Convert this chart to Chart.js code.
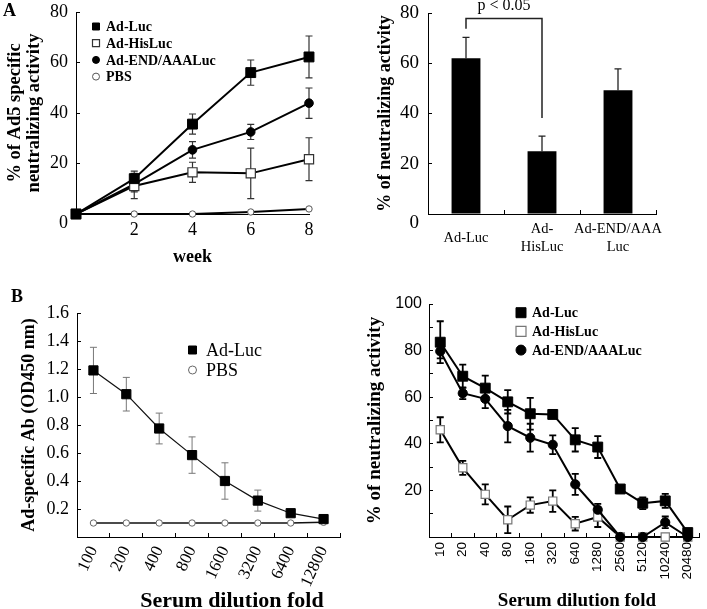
<!DOCTYPE html>
<html><head><meta charset="utf-8">
<script src="https://cdn.jsdelivr.net/npm/chart.js@4.4.1/dist/chart.umd.min.js"></script>
<style>
html,body{margin:0;padding:0;background:#fff}
body{width:707px;height:609px;position:relative;overflow:hidden}
canvas{position:absolute}
.lbl{position:absolute;font-family:'Liberation Serif',serif;font-weight:bold;color:#000;line-height:1;white-space:nowrap}
</style></head>
<body>
<canvas id="cA1" width="345" height="280" style="left:0;top:0"></canvas>
<canvas id="cA2" width="352" height="280" style="left:355px;top:0"></canvas>
<canvas id="cB1" width="355" height="324" style="left:0;top:285px"></canvas>
<canvas id="cB2" width="352" height="324" style="left:355px;top:285px"></canvas>
<div class="lbl" style="left:3px;top:1px;font-size:18px">A</div>
<div class="lbl" style="left:11px;top:287px;font-size:18px">B</div>
<div class="lbl" style="left:82px;top:589px;width:300px;text-align:center;font-size:22px">Serum dilution fold</div>
<div class="lbl" style="left:427px;top:590px;width:300px;text-align:center;font-size:19px">Serum dilution fold</div>
<script>
// ---------- Panel A (left): time course ----------
const weeks = [0, 2, 4, 6, 8];
const weekAdLuc = [0, 14, 35.6, 56, 62.2];
const weekAdLucErr = [0, 3, 4, 5, 8.3];
const weekAdHisLuc = [0, 11.1, 16.5, 16.1, 21.7];
const weekAdHisLucErr = [0, 5, 4, 10, 8.5];
const weekAdEnd = [0, 11.8, 25.4, 32.5, 43.9];
const weekAdEndErr = [0, 3, 3.3, 3, 6];
const weekPbs = [0, 0, 0, 0.8, 2];

// ---------- Panel A (right): week 8 bars ----------
const barGroups = ['Ad-Luc', ['Ad-', 'HisLuc'], ['Ad-END/AAA', 'Luc']];
const barValues = [62, 25, 49.3];
const barErrors = [8.3, 6, 8.5];
const sigText = 'p < 0.05';
const sigLevels = [73.7, 77.8, 38.2, 83]; // left leg end, bracket top, right leg end, text level

// ---------- Panel B (left): ELISA ----------
const elisaDilutions = ['100', '200', '400', '800', '1600', '3200', '6400', '12800'];
const elisaAdLuc = [1.19, 1.02, 0.775, 0.585, 0.40, 0.26, 0.17, 0.128];
const elisaAdLucErr = [0.165, 0.12, 0.11, 0.13, 0.13, 0.075, 0.02, 0.01];
const elisaPbs = [0.1, 0.1, 0.1, 0.1, 0.1, 0.1, 0.1, 0.105];

// ---------- Panel B (right): neutralization ----------
const ntDilutions = ['10', '20', '40', '80', '160', '320', '640', '1280', '2560', '5120', '10240', '20480'];
const ntAdLuc = [83.6, 69, 63.9, 58, 52.9, 52.6, 41.7, 38.6, 20.6, 14.5, 15.5, 1.9];
const ntAdLucErr = [9, 5, 5.4, 5, 6.8, 1, 5, 4.7, 0.5, 2.5, 3, 0];
const ntAdHisLuc = [46, 29.7, 18.3, 7.4, 13.7, 15.4, 5.7, 8.6, 0, 0, 0, 0];
const ntAdHisLucErr = [5.4, 3, 4.3, 5.7, 3.3, 4.6, 2.9, 4.3, 0, 0, 0, 0];
const ntAdEnd = [79.7, 61.7, 59.3, 47.6, 42.6, 39.6, 22.6, 11.7, 0, 0, 6.3, 0];
const ntAdEndErr = [3, 2.5, 4, 7, 6, 4, 4.5, 2.5, 0, 0, 2.5, 0];

// ---------- helpers / plugins ----------
const SERIF = "'Liberation Serif', 'Times New Roman', serif";
const SANS = "'Liberation Sans', Arial, sans-serif";
Chart.defaults.font.family = SERIF;
Chart.defaults.color = '#000';

const toPoints = (xs, ys) => xs.map((x, i) => ({ x: x, y: ys[i] }));

const errorBars = {
  id: 'errorBars',
  beforeDatasetsDraw(chart, args, o) {
    const ctx = chart.ctx, ys = chart.scales.y;
    chart.data.datasets.forEach((ds, i) => {
      if (!ds.errors) return;
      const meta = chart.getDatasetMeta(i);
      meta.data.forEach((el, j) => {
        const e = ds.errors[j];
        if (!e) return;
        const v = meta.controller.getParsed(j).y;
        const x = el.x;
        const yt = ys.getPixelForValue(v + e);
        const yb = ys.getPixelForValue(o.upOnly ? v : v - e);
        ctx.save();
        ctx.strokeStyle = o.color || '#000';
        ctx.lineWidth = o.width || 1;
        ctx.beginPath();
        ctx.moveTo(x, yt); ctx.lineTo(x, yb);
        ctx.moveTo(x - o.cap, yt); ctx.lineTo(x + o.cap, yt);
        if (!o.upOnly) { ctx.moveTo(x - o.cap, yb); ctx.lineTo(x + o.cap, yb); }
        ctx.stroke();
        ctx.restore();
      });
    });
  }
};

function drawMarker(ctx, style, x, y, size, fill, stroke, lw) {
  ctx.save();
  ctx.fillStyle = fill; ctx.strokeStyle = stroke; ctx.lineWidth = lw;
  ctx.beginPath();
  if (style === 'rect') ctx.rect(x - size / 2, y - size / 2, size, size);
  else ctx.arc(x, y, size / 2, 0, Math.PI * 2);
  ctx.fill();
  if (lw) ctx.stroke();
  ctx.restore();
}

const innerLegend = {
  id: 'innerLegend',
  afterDraw(chart, args, o) {
    const ctx = chart.ctx;
    chart.data.datasets.forEach((ds, i) => {
      const y = o.y + i * o.step;
      drawMarker(ctx, ds.pointStyle, o.x, y, o.size,
        ds.pointBackgroundColor, ds.pointBorderColor, ds.pointBorderWidth);
      ctx.save();
      ctx.fillStyle = '#000';
      ctx.font = o.font;
      ctx.textBaseline = 'middle';
      ctx.textAlign = 'left';
      ctx.fillText(ds.label, o.textX, y + 1);
      ctx.restore();
    });
  }
};

const bracket = {
  id: 'bracket',
  afterDatasetsDraw(chart, args, o) {
    const ctx = chart.ctx, xs = chart.scales.x, ys = chart.scales.y;
    const x1 = xs.getPixelForValue(o.from), x2 = xs.getPixelForValue(o.to);
    const yl = ys.getPixelForValue(o.levels[0]);
    const yt = ys.getPixelForValue(o.levels[1]);
    const yr = ys.getPixelForValue(o.levels[2]);
    const ytx = ys.getPixelForValue(o.levels[3]);
    ctx.save();
    ctx.strokeStyle = '#222'; ctx.lineWidth = 1.5;
    ctx.beginPath();
    ctx.moveTo(x1, yl); ctx.lineTo(x1, yt); ctx.lineTo(x2, yt); ctx.lineTo(x2, yr);
    ctx.stroke();
    ctx.fillStyle = '#000';
    ctx.font = "16px " + SERIF;
    ctx.textAlign = 'center'; ctx.textBaseline = 'middle';
    ctx.fillText(o.text, (x1 + x2) / 2, ytx);
    ctx.restore();
  }
};

const axisBorder = { display: true, color: '#000', width: 1 };
function innerGrid(extra) {
  return Object.assign({ display: true, drawOnChartArea: false, drawTicks: true, tickLength: -4, color: '#000', lineWidth: 1 }, extra || {});
}
function fixW(w) { return s => { s.width = w; s.paddingTop = 0; s.paddingBottom = 0; }; }
function fixH(h) { return s => { s.height = h; s.paddingLeft = 0; s.paddingRight = 0; }; }
// the zero label sits a little below the axis, as in the original figure
const zeroLow = v => v === 0 ? ['', '0'] : (v % 20 === 0 ? String(v) : '');

// ---------- Chart A1 ----------
new Chart(document.getElementById('cA1'), {
  type: 'line',
  data: {
    datasets: [
      { label: 'Ad-Luc', data: toPoints(weeks, weekAdLuc), errors: weekAdLucErr,
        borderColor: '#000', borderWidth: 2, pointStyle: 'rect', pointRadius: 7,
        pointBackgroundColor: '#000', pointBorderColor: '#000', pointBorderWidth: 1, clip: false, order: 0 },
      { label: 'Ad-HisLuc', data: toPoints(weeks, weekAdHisLuc), errors: weekAdHisLucErr,
        borderColor: '#000', borderWidth: 2, pointStyle: 'rect', pointRadius: 6.5,
        pointBackgroundColor: '#fff', pointBorderColor: '#333', pointBorderWidth: 1.2, clip: false, order: 1 },
      { label: 'Ad-END/AAALuc', data: toPoints(weeks, weekAdEnd), errors: weekAdEndErr,
        borderColor: '#000', borderWidth: 2, pointStyle: 'circle', pointRadius: 4.3,
        pointBackgroundColor: '#000', pointBorderColor: '#000', pointBorderWidth: 1, clip: false, order: 2 },
      { label: 'PBS', data: toPoints(weeks, weekPbs),
        borderColor: '#000', borderWidth: 2, pointStyle: 'circle', pointRadius: 3.2,
        pointBackgroundColor: '#fff', pointBorderColor: '#555', pointBorderWidth: 1, clip: false, order: 3 }
    ]
  },
  options: {
    responsive: false, animation: false, devicePixelRatio: 1,
    layout: { padding: { left: 0, top: 12, right: 36, bottom: 0 } },
    plugins: {
      legend: { display: false }, tooltip: { enabled: false },
      errorBars: { color: '#333', width: 1.2, cap: 3.5 },
      innerLegend: { x: 96, textX: 106, y: 26.5, step: 16.7, size: 7, font: "bold 14px " + SERIF }
    },
    scales: {
      x: {
        type: 'linear', min: 0, max: 8,
        afterFit: fixH(66),
        border: axisBorder,
        grid: { display: false, drawTicks: false },
        ticks: { stepSize: 2, padding: 5, font: { size: 18, family: SERIF }, callback: v => v === 0 ? '' : String(v) },
        title: { display: true, text: 'week', font: { size: 18, weight: 'bold', family: SERIF, lineHeight: 1 }, padding: { top: 0, bottom: 14 } }
      },
      y: {
        min: 0, max: 80,
        afterFit: fixW(76),
        border: axisBorder,
        grid: innerGrid(),
        ticks: { stepSize: 10, padding: 12, font: { size: 18, family: SERIF, lineHeight: 1 }, callback: zeroLow },
        title: { display: true, text: ['% of Ad5 specific', 'neutralizing activity'], font: { size: 18.5, weight: 'bold', family: SERIF, lineHeight: 1 }, padding: { top: 6, bottom: 0 } }
      }
    }
  },
  plugins: [errorBars, innerLegend]
});

// ---------- Chart A2 ----------
new Chart(document.getElementById('cA2'), {
  type: 'bar',
  data: {
    labels: barGroups,
    datasets: [{ label: 'week 8', data: barValues, errors: barErrors, backgroundColor: '#000',
      borderWidth: 0, barPercentage: 0.76, categoryPercentage: 0.5 }]
  },
  options: {
    responsive: false, animation: false, devicePixelRatio: 1,
    layout: { padding: { left: 0, top: 13, right: 51, bottom: 0 } },
    plugins: {
      legend: { display: false }, tooltip: { enabled: false },
      errorBars: { color: '#222', width: 1.3, cap: 3.5, upOnly: true },
      bracket: { from: 0, to: 1, levels: sigLevels, text: sigText }
    },
    scales: {
      x: {
        afterFit: fixH(66),
        border: axisBorder,
        grid: innerGrid({ offset: true }),
        ticks: { padding: 19, maxRotation: 0, autoSkip: false, crossAlign: 'center', font: { size: 14.5, family: SERIF, lineHeight: 1.24 } }
      },
      y: {
        min: 0, max: 80,
        afterFit: fixW(73),
        border: axisBorder,
        grid: innerGrid(),
        ticks: { stepSize: 10, padding: 13, font: { size: 19, family: SERIF, lineHeight: 1 }, callback: zeroLow },
        title: { display: true, text: '% of neutralizing activity', font: { size: 18, weight: 'bold', family: SERIF, lineHeight: 1 }, padding: { top: 21, bottom: 0 } }
      }
    }
  },
  plugins: [errorBars, bracket]
});

// ---------- Chart B1 ----------
new Chart(document.getElementById('cB1'), {
  type: 'line',
  data: {
    labels: elisaDilutions,
    datasets: [
      { label: 'Ad-Luc', data: elisaAdLuc, errors: elisaAdLucErr,
        borderColor: '#111', borderWidth: 1.2, pointStyle: 'rect', pointRadius: 6.5,
        pointBackgroundColor: '#000', pointBorderColor: '#000', pointBorderWidth: 1, clip: false },
      { label: 'PBS', data: elisaPbs,
        borderColor: '#111', borderWidth: 1.5, pointStyle: 'circle', pointRadius: 3.2,
        pointBackgroundColor: '#fff', pointBorderColor: '#666', pointBorderWidth: 1, clip: false }
    ]
  },
  options: {
    responsive: false, animation: false, devicePixelRatio: 1,
    layout: { padding: { left: 0, top: 28, right: 15, bottom: 0 } },
    plugins: {
      legend: { display: false }, tooltip: { enabled: false },
      errorBars: { color: '#777', width: 1, cap: 3.5 },
      innerLegend: { x: 192.5, textX: 206, y: 65, step: 20, size: 8, font: "18px " + SERIF }
    },
    scales: {
      x: {
        offset: true,
        afterFit: fixH(72),
        border: axisBorder,
        grid: innerGrid({ offset: true }),
        ticks: { padding: 10, minRotation: 65, maxRotation: 65, autoSkip: false, font: { size: 17, family: SERIF } }
      },
      y: {
        min: 0, max: 1.6,
        afterFit: fixW(77),
        border: axisBorder,
        grid: innerGrid(),
        ticks: { stepSize: 0.2, padding: 12, font: { size: 18, family: SERIF }, callback: v => v < 0.01 ? '' : v.toFixed(1) },
        title: { display: true, text: 'Ad-specific Ab (OD450 nm)', font: { size: 18, weight: 'bold', family: SERIF, lineHeight: 1 }, padding: { top: 20, bottom: 0 } }
      }
    }
  },
  plugins: [errorBars, innerLegend]
});

// ---------- Chart B2 ----------
new Chart(document.getElementById('cB2'), {
  type: 'line',
  data: {
    labels: ntDilutions,
    datasets: [
      { label: 'Ad-Luc', data: ntAdLuc, errors: ntAdLucErr, order: 0,
        borderColor: '#000', borderWidth: 2, pointStyle: 'rect', pointRadius: 7,
        pointBackgroundColor: '#000', pointBorderColor: '#000', pointBorderWidth: 1, clip: false },
      { label: 'Ad-HisLuc', data: ntAdHisLuc, errors: ntAdHisLucErr, order: 2,
        borderColor: '#000', borderWidth: 2, pointStyle: 'rect', pointRadius: 5.8,
        pointBackgroundColor: '#fff', pointBorderColor: '#777', pointBorderWidth: 1.2, clip: false },
      { label: 'Ad-END/AAALuc', data: ntAdEnd, errors: ntAdEndErr, order: 1,
        borderColor: '#000', borderWidth: 2, pointStyle: 'circle', pointRadius: 4.6,
        pointBackgroundColor: '#000', pointBorderColor: '#000', pointBorderWidth: 1, clip: false }
    ]
  },
  options: {
    responsive: false, animation: false, devicePixelRatio: 1,
    layout: { padding: { left: 0, top: 19, right: 2, bottom: 0 } },
    plugins: {
      legend: { display: false }, tooltip: { enabled: false },
      errorBars: { color: '#000', width: 1.8, cap: 3.5 },
      innerLegend: { x: 166, textX: 177, y: 27.7, step: 18.7, size: 10, font: "bold 14px " + SERIF }
    },
    scales: {
      x: {
        offset: true,
        afterFit: fixH(72),
        border: axisBorder,
        grid: innerGrid({ offset: true }),
        ticks: { padding: 9, minRotation: 90, maxRotation: 90, autoSkip: false, font: { size: 13.5, family: SANS } }
      },
      y: {
        min: 0, max: 100,
        afterFit: fixW(74),
        border: axisBorder,
        grid: innerGrid(),
        ticks: { stepSize: 10, padding: 11, font: { size: 16, family: SANS }, callback: v => (v % 20 === 0 && v > 0) ? String(v) : '' },
        title: { display: true, text: '% of neutralizing activity', font: { size: 19, weight: 'bold', family: SERIF, lineHeight: 1 }, padding: { top: 10.5, bottom: 0 } }
      }
    }
  },
  plugins: [errorBars, innerLegend]
});
</script>
</body></html>
